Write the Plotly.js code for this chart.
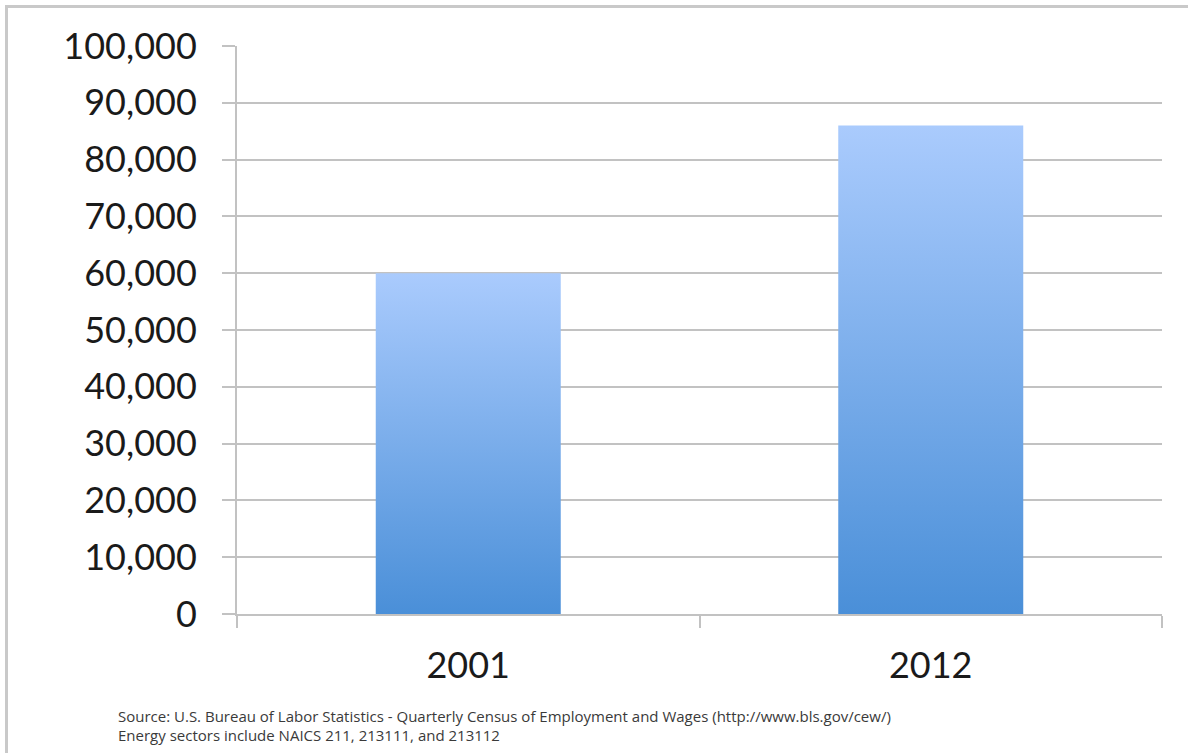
<!DOCTYPE html>
<html>
<head>
<meta charset="utf-8">
<script src="https://cdn.plot.ly/plotly-3.0.1.min.js"></script>
<style>
  html, body { margin: 0; padding: 0; background: #fff; overflow: hidden; }
  #chart { width: 1188px; height: 753px; position: absolute; left: 0; top: 0; }
  #frame { position: absolute; left: 5px; top: 5px; width: 1400px; height: 1000px;
           border: 3px solid #c9c9c9; pointer-events: none; box-sizing: border-box; }
</style>
</head>
<body>
<div id="chart"></div>
<div id="frame"></div>
<script>
const categories = ["2001", "2012"];
const employment = [60000, 86000];
const yTickValues = [0, 10000, 20000, 30000, 40000, 50000, 60000, 70000, 80000, 90000, 100000];
const yTickLabels = ["0", "10,000", "20,000", "30,000", "40,000", "50,000", "60,000", "70,000", "80,000", "90,000", "100,000"];
const sourceLines = [
  "Source: U.S. Bureau of Labor Statistics - Quarterly Census of Employment and Wages (http://www.bls.gov/cew/)",
  "Energy sectors include NAICS 211, 213111, and 213112"
];

const FONT = "Lato, 'Open Sans', sans-serif";
const NOTE_FONT = "'Open Sans', Lato, sans-serif";
const W = 1188, H = 753, L = 237, R = 26, T = 46, B = 139;
const plotW = W - L - R, plotH = H - T - B;

const trace = {
  type: "bar",
  x: categories,
  y: employment,
  width: 0.4,
  marker: { color: "#7aaeea", line: { width: 0 } },
  hoverinfo: "x+y"
};

const layout = {
  width: W, height: H,
  margin: { l: L, r: R, t: T, b: B, pad: 0 },
  paper_bgcolor: "#ffffff",
  plot_bgcolor: "#ffffff",
  showlegend: false,
  bargap: 0.6,
  xaxis: {
    type: "category",
    tickson: "boundaries",
    ticks: "outside",
    ticklen: 12,
    tickwidth: 2,
    tickcolor: "#c2c2c2",
    showline: true,
    linecolor: "#c2c2c2",
    linewidth: 2,
    showgrid: false,
    zeroline: false,
    tickfont: { family: FONT, size: 36, color: "#1a1a1a" },
    ticklabelstandoff: 19,
    fixedrange: true
  },
  yaxis: {
    range: [0, 100000],
    tickmode: "array",
    tickvals: yTickValues,
    ticktext: yTickLabels,
    ticks: "outside",
    ticklen: 13,
    tickwidth: 2,
    tickcolor: "#c2c2c2",
    showline: true,
    linecolor: "#c2c2c2",
    linewidth: 2,
    showgrid: true,
    gridcolor: "#c2c2c2",
    gridwidth: 2,
    zeroline: false,
    tickfont: { family: FONT, size: 36, color: "#1a1a1a" },
    ticklabelstandoff: 18,
    fixedrange: true
  },
  annotations: sourceLines.map((t, i) => ({
    text: t,
    xref: "paper", yref: "paper",
    x: (116 - L) / plotW,
    y: -(716 + i * 19 - (T + plotH)) / plotH,
    xanchor: "left", yanchor: "middle",
    showarrow: false,
    font: { family: NOTE_FONT, size: 15, color: "#3a3a3a" },
    align: "left"
  }))
};

Plotly.newPlot("chart", [trace], layout, { displayModeBar: false, staticPlot: true }).then(gd => {
  const svg = gd.querySelector("svg.main-svg");
  const ns = "http://www.w3.org/2000/svg";
  let defs = svg.querySelector("defs");
  if (!defs) { defs = document.createElementNS(ns, "defs"); svg.insertBefore(defs, svg.firstChild); }
  const grad = document.createElementNS(ns, "linearGradient");
  grad.setAttribute("id", "barGrad");
  grad.setAttribute("x1", "0"); grad.setAttribute("y1", "0");
  grad.setAttribute("x2", "0"); grad.setAttribute("y2", "1");
  [["0", "#aacbfd"], ["1", "#4a8fd8"]].forEach(([o, c]) => {
    const s = document.createElementNS(ns, "stop");
    s.setAttribute("offset", o); s.setAttribute("stop-color", c);
    grad.appendChild(s);
  });
  defs.appendChild(grad);
  gd.querySelectorAll(".bars .point path").forEach(p => {
    p.style.fill = "url(#barGrad)";
  });
});
</script>
</body>
</html>
